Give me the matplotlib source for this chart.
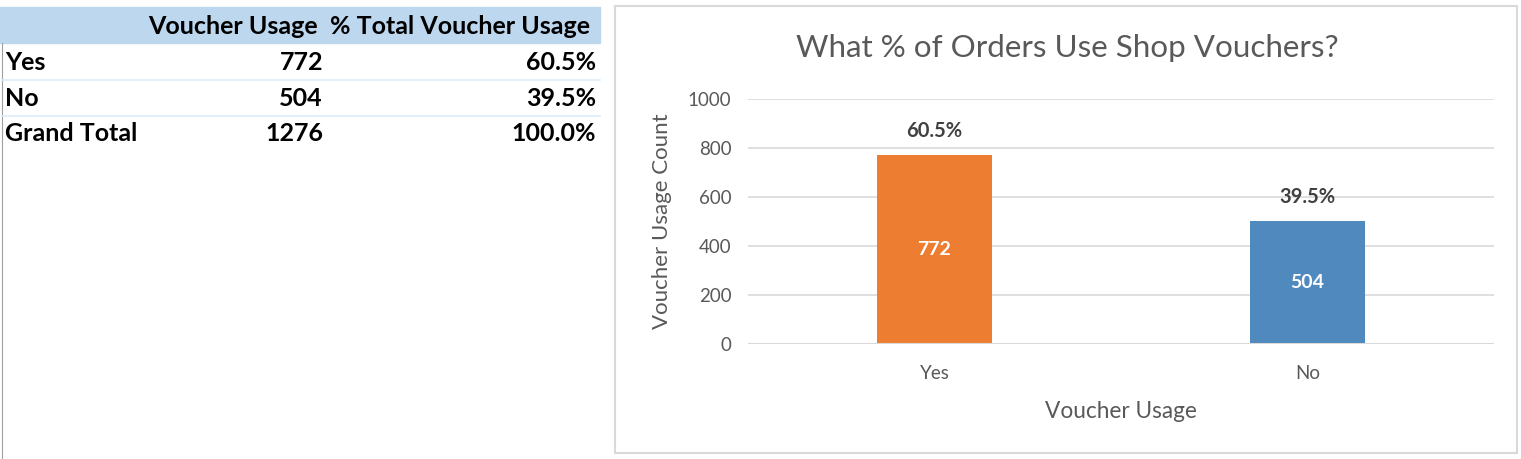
import matplotlib.pyplot as plt
from matplotlib.patches import Rectangle
from matplotlib.lines import Line2D

categories = ['Yes', 'No']
counts = [772, 504]
pct = [60.5, 39.5]
bar_colors = ['#ED7D31', '#4F89BE']
yticks = [0, 200, 400, 600, 800, 1000]

W, H = 1521, 459
plt.rcParams['font.family'] = ['Lato', 'DejaVu Sans']

fig = plt.figure(figsize=(W / 100, H / 100), dpi=100)


def fx(px):
    return px / W


def fy(py):
    return 1 - py / H


# ---- pivot table on the left ----
fig.patches.append(Rectangle((fx(0), fy(43)), fx(600), 36 / H,
                             transform=fig.transFigure, color='#BDD7EE', zorder=0))
fig.add_artist(Line2D([fx(1.5), fx(1.5)], [fy(43), fy(459)], color='#A0A0A0', lw=0.8))
for yy in [79.5, 115.5]:
    fig.add_artist(Line2D([fx(2), fx(600)], [fy(yy), fy(yy)], color='#DDEBF7', lw=1.2))

tkw = dict(fontsize=18, fontweight='bold', color='black', va='center')
fig.text(fx(318), fy(26), 'Voucher Usage', ha='right', **tkw)
fig.text(fx(590), fy(26), '% Total Voucher Usage', ha='right', **tkw)

rows = categories + ['Grand Total']
row_counts = counts + [sum(counts)]
row_pct = pct + [sum(pct)]
for i, (name, c, p) in enumerate(zip(rows, row_counts, row_pct)):
    yy = fy(62 + 36 * i)
    fig.text(fx(5), yy, name, ha='left', **tkw)
    fig.text(fx(323), yy, str(c), ha='right', **tkw)
    fig.text(fx(596), yy, f'{p:.1f}%', ha='right', **tkw)

# ---- chart panel ----
fig.patches.append(Rectangle((fx(615), fy(453)), fx(1517 - 615), (453 - 6) / H,
                             transform=fig.transFigure, fill=False,
                             edgecolor='#D9D9D9', lw=1.5))

ax = fig.add_axes([fx(748), fy(344), fx(1494 - 748), (344 - 99) / H])
x = list(range(len(categories)))
bars = ax.bar(x, counts, width=0.31, color=bar_colors, zorder=3)
ax.set_xlim(-0.5, len(categories) - 0.5)
ax.set_ylim(0, 1000)
ax.set_yticks(yticks)
ax.set_xticks(x)
ax.set_xticklabels(categories)
ax.tick_params(length=0, labelsize=13.5, colors='#595959', pad=12)
ax.tick_params(axis='x', pad=15)
ax.grid(axis='y', color='#D9D9D9', lw=1.2, zorder=0)
for s in ax.spines.values():
    s.set_visible(False)
ax.axhline(0, color='#D9D9D9', lw=1.5, zorder=4)

for b, c, p in zip(bars, counts, pct):
    cx = b.get_x() + b.get_width() / 2
    ax.text(cx, c / 2, str(c), ha='center', va='center', color='white',
            fontsize=14, fontweight='bold', zorder=5)
    ax.annotate(f'{p:.1f}%', (cx, c), xytext=(0, 24), textcoords='offset pixels',
                ha='center', va='center', color='#404040', fontsize=14.5,
                fontweight='bold')

ax.set_xlabel('Voucher Usage', fontsize=16.3, color='#595959', labelpad=14)
ax.set_ylabel('Voucher Usage Count', fontsize=16, color='#595959', labelpad=11)
fig.text(fx(1067), fy(48), 'What % of Orders Use Shop Vouchers?', ha='center',
         va='center', fontsize=22.6, color='#595959')

fig.savefig('out.png', dpi=100)
